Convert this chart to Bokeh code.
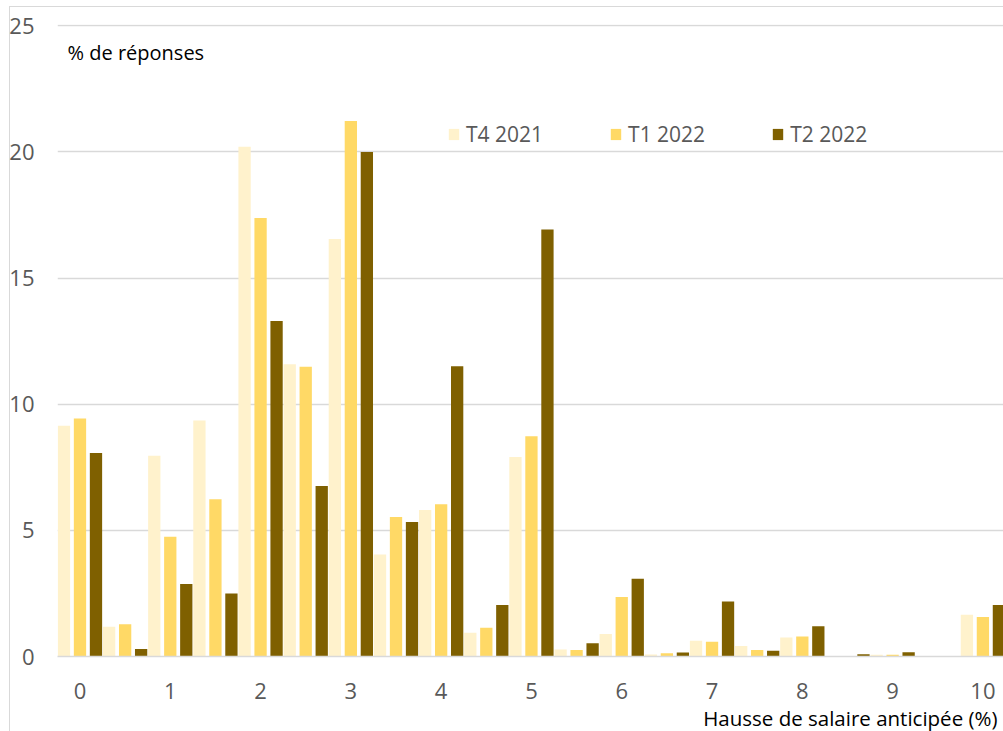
from bokeh.plotting import figure
from bokeh.models import Range1d, FixedTicker, Label, Title
from bokeh.embed import file_html
from bokeh.resources import INLINE

# Anticipated wage increase (%) - one group of bars per half point
hausse = [0, 0.5, 1, 1.5, 2, 2.5, 3, 3.5, 4, 4.5, 5, 5.5, 6, 6.5, 7, 7.5, 8, 8.5, 9, 9.5, 10]

# Share of answers (%) for each survey wave
t4_2021 = [9.15, 1.18, 7.96, 9.35, 20.2, 11.58, 16.55, 4.04, 5.81, 0.94, 7.91,
           0.28, 0.89, 0.08, 0.62, 0.42, 0.75, 0.0, 0.07, 0.0, 1.65]
t1_2022 = [9.43, 1.28, 4.75, 6.23, 17.38, 11.48, 21.23, 5.53, 6.03, 1.14, 8.73,
           0.26, 2.36, 0.13, 0.58, 0.26, 0.79, 0.0, 0.07, 0.0, 1.57]
t2_2022 = [8.07, 0.30, 2.87, 2.50, 13.30, 6.76, 20.0, 5.33, 11.50, 2.04, 16.92,
           0.53, 3.08, 0.16, 2.18, 0.23, 1.20, 0.09, 0.17, 0.0, 2.04]

series_names = ["T4 2021", "T1 2022", "T2 2022"]
series_colors = ["#FFF2CC", "#FFD966", "#7F6000"]

x_ticks = [0, 1, 2, 3, 4, 5, 6, 7, 8, 9, 10]
x_tick_labels = ["0", "1", "2", "3", "4", "5", "6", "7", "8", "9", "10"]
y_ticks = [0, 5, 10, 15, 20, 25]

FONT = "Open Sans"
GREY_TEXT = "#595959"
GRID = "#d9d9d9"

p = figure(width=1003, height=731, output_backend="svg", toolbar_location=None,
           x_range=Range1d(-0.249, 10.228), y_range=Range1d(0, 25.05),
           min_border_left=57, min_border_right=0, min_border_top=24,
           min_border_bottom=75)
p.outline_line_color = None
p.background_fill_color = "white"
# transparent surround so the chart-area border drawn behind the canvas shows
p.border_fill_color = None
p.border_fill_alpha = 0
p.styles = {
    "background": (
        f"linear-gradient({GRID}, {GRID}) 9px 6px / 1px 100% no-repeat, "
        f"linear-gradient({GRID}, {GRID}) 9px 6px / 100% 1px no-repeat, white"
    )
}

# bars: three per group, side by side
bar_w = 0.1362
offsets = [-0.1772, 0.0, 0.1772]
for vals, name, col, off in zip([t4_2021, t1_2022, t2_2022], series_names, series_colors, offsets):
    xs = [h + off for h in hausse]
    p.vbar(x=xs, top=vals, width=bar_w, bottom=0, fill_color=col,
           line_color=None, legend_label=name)

# grid
p.xgrid.visible = False
p.ygrid.ticker = FixedTicker(ticks=y_ticks)
p.ygrid.grid_line_color = GRID
p.ygrid.grid_line_width = 1.3

# y axis
p.yaxis.ticker = FixedTicker(ticks=y_ticks)
p.yaxis.axis_line_color = None
p.yaxis.major_tick_line_color = None
p.yaxis.minor_tick_line_color = None
p.yaxis.major_tick_out = 0
p.yaxis.major_tick_in = 0
p.yaxis.minor_tick_out = 0
p.yaxis.major_label_standoff = 23
p.yaxis.major_label_text_font = FONT
p.yaxis.major_label_text_font_size = "22px"
p.yaxis.major_label_text_color = GREY_TEXT

# x axis
p.xaxis.ticker = FixedTicker(ticks=x_ticks)
p.xaxis.major_label_overrides = {t: s for t, s in zip(x_ticks, x_tick_labels)}
p.xaxis.axis_line_color = GRID
p.xaxis.axis_line_width = 1.3
p.xaxis.major_tick_line_color = None
p.xaxis.minor_tick_line_color = None
p.xaxis.major_tick_out = 0
p.xaxis.major_tick_in = 0
p.xaxis.minor_tick_out = 0
p.xaxis.major_label_standoff = 26
p.xaxis.major_label_text_font = FONT
p.xaxis.major_label_text_font_size = "22px"
p.xaxis.major_label_text_color = GREY_TEXT

# legend across the top of the plot area
lg = p.legend[0]
lg.orientation = "horizontal"
lg.location = (390, 508)
lg.glyph_width = 13
lg.glyph_height = 14
lg.label_standoff = 6
lg.spacing = 66
lg.padding = 0
lg.margin = 0
lg.border_line_color = None
lg.background_fill_alpha = 0
lg.label_text_font = FONT
lg.label_text_font_size = "21px"
lg.label_text_color = GREY_TEXT

# unit note inside the plot area
p.add_layout(Label(x=-0.138, y=23.96, text="% de réponses", text_font=FONT,
                   text_font_size="20px", text_color="black",
                   text_baseline="alphabetic", text_align="left"))

# x-axis title, right aligned under the tick labels
p.add_layout(Title(text="Hausse de salaire anticipée (%)", align="right",
                   text_font=FONT, text_font_size="20.5px", text_color="black",
                   text_font_style="normal", standoff=0, offset=6), "below")

open("out.html", "w").write(file_html(p, INLINE))
